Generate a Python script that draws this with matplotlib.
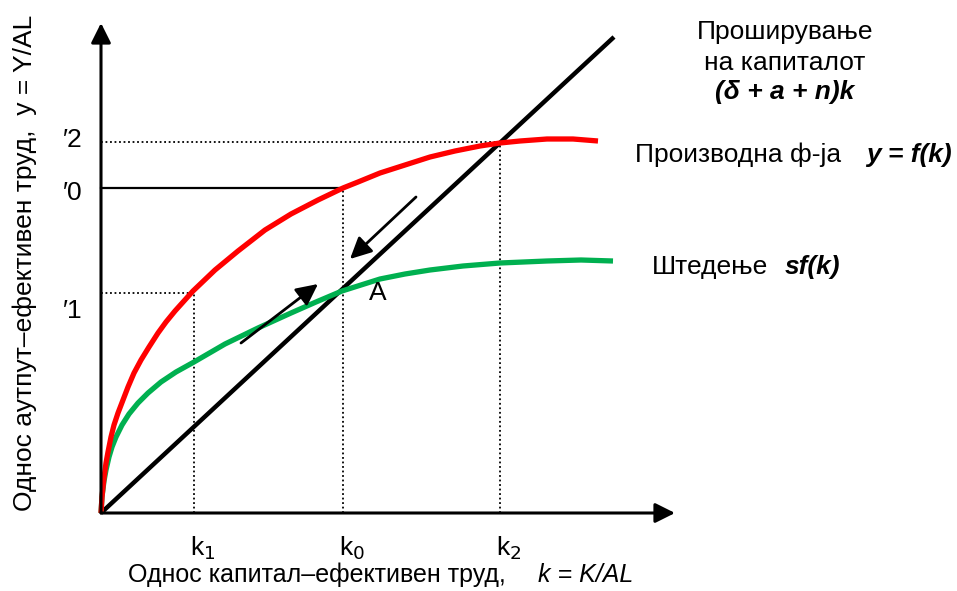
import matplotlib
matplotlib.use("Agg")
import matplotlib.pyplot as plt

plt.rcParams['font.family'] = ['Liberation Sans', 'DejaVu Sans']

# values (k = capital per effective worker, y = output per effective worker)
k_prod = [0, 1, 2, 3, 5, 7, 10, 13, 17, 22, 27, 33, 40, 48, 57, 65, 74, 92, 114, 137,
          164, 190, 217, 242, 257, 279, 304, 329, 354, 379, 399, 419, 446, 472, 497]
y_prod = [0, 16, 26, 35, 50, 61, 76, 88, 100, 113, 126, 140, 153, 166, 180, 191, 202, 222,
          243, 262, 283, 299, 313, 325, 331, 340, 348, 356, 362, 367, 370, 372, 374, 374, 372]

k_save = [0, 1, 3, 5, 8, 11, 15, 21, 28, 37, 47, 60, 75, 93, 124, 157, 190, 215, 241,
          279, 304, 329, 362, 399, 446, 480, 512]
y_save = [0, 16, 32, 43, 56, 66, 76, 88, 99, 110, 120, 131, 141, 151, 169, 185, 200, 211,
          222, 234, 239, 243, 247, 250, 252, 253, 252]

k_line = [0, 513]
y_line = [0, 476]

k_marks = [93, 242, 399]          # k1, k0, k2
k_names = ['k$_1$', 'k$_0$', 'k$_2$']
y_marks = [220, 325, 371]         # y1, y0, y2
y_names = ['\u20321', '\u20320', '\u20322']

fig = plt.figure(figsize=(9.57, 5.91), dpi=100)
ax = fig.add_axes([0, 0, 1, 1])
ax.set_xlim(-101, 856)
ax.set_ylim(-78, 513)
ax.axis('off')

fs = 19

# axes with arrow heads
arrow_kw = dict(arrowstyle='-|>,head_length=0.6,head_width=0.3', lw=2.2,
                color='black', shrinkA=0, shrinkB=0, mutation_scale=20)
ax.annotate('', xy=(574, 0), xytext=(0, 0), arrowprops=arrow_kw)
ax.annotate('', xy=(0, 490), xytext=(0, 0), arrowprops=arrow_kw)

# guide lines
k1, k0, k2 = k_marks
y1, y0, y2 = y_marks
dot = dict(color='black', lw=1.3, ls=(0, (1, 1.5)))
ax.plot([0, k1], [y1, y1], **dot)
ax.plot([k1, k1], [0, y1], **dot)
ax.plot([k0, k0], [0, y0], **dot)
ax.plot([0, k2], [y2, y2], **dot)
ax.plot([k2, k2], [0, y2], **dot)
ax.plot([0, k0], [y0, y0], color='black', lw=1.6)

# curves
ax.plot(k_line, y_line, color='black', lw=3.2, solid_capstyle='butt')
ax.plot(k_save, y_save, color='#00B050', lw=3.8, solid_capstyle='butt',
        solid_joinstyle='round')
ax.plot(k_prod, y_prod, color='#FF0000', lw=3.8, solid_capstyle='butt',
        solid_joinstyle='round')

# adjustment arrows
small = dict(arrowstyle='-|>,head_length=0.65,head_width=0.32', lw=2,
             color='black', shrinkA=0, shrinkB=0, mutation_scale=20)
ax.annotate('', xy=(217, 229), xytext=(140, 170), arrowprops=small)
ax.annotate('', xy=(249, 254), xytext=(315, 316), arrowprops=small)

ax.text(277, 220, 'A', fontsize=fs, ha='center', va='center')

# axis tick names
for k, name in zip(k_marks, k_names):
    ax.text(k + 9, -35, name, fontsize=fs, ha='center', va='center')
offsets = [-18, -5, 2]
for yv, name, off in zip(y_marks, y_names, offsets):
    ax.text(-28, yv + off, name, fontsize=fs, ha='center', va='center')

# axis titles
ax.text(27, -62, 'Однос капитал\u2013ефективен труд,', fontsize=18,
        ha='left', va='center')
ax.text(532, -62, 'k = K/AL', fontsize=18, ha='right', va='center',
        style='italic')
ax.text(-76, 250, 'Однос аутпут\u2013ефективен труд,  y = Y/AL', fontsize=fs,
        ha='center', va='center', rotation=90)

# curve labels
ax.text(684, 481, 'Проширување', fontsize=fs, ha='center', va='center')
ax.text(684, 450, 'на капиталот', fontsize=fs, ha='center', va='center')
ax.text(684, 421, '(δ + a + n)k', fontsize=fs, ha='center', va='center',
        style='italic', weight='bold')
ax.text(534, 358, 'Производна ф-ја', fontsize=fs, ha='left', va='center')
ax.text(851, 358, 'y = f(k)', fontsize=fs, ha='right', va='center',
        style='italic', weight='bold')
ax.text(551, 246, 'Штедење', fontsize=fs, ha='left', va='center')
ax.text(739, 246, 'sf(k)', fontsize=fs, ha='right', va='center',
        style='italic', weight='bold')

fig.savefig('out.png', dpi=100)
